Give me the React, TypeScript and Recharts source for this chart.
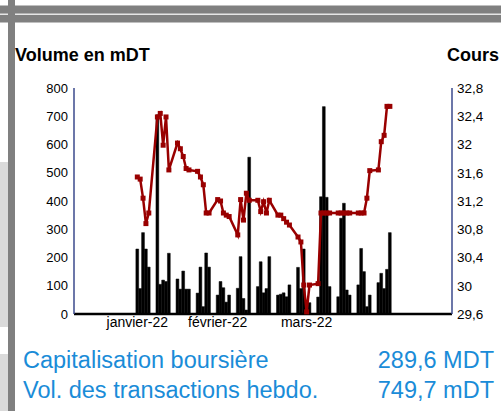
import { ComposedChart, Bar, Line, XAxis, YAxis } from "recharts";

// trading days, counted from Monday 3 January 2022
const days = [
  0, 1, 2, 3, 4, 7, 8, 9, 10, 11, 14, 15, 16, 17, 18, 21, 22, 23, 24, 25,
  28, 29, 30, 31, 32, 35, 36, 37, 38, 39, 42, 43, 44, 45, 46, 49, 50, 51, 52, 53,
  56, 57, 58, 59, 60, 63, 64, 65, 66, 67, 70, 71, 72, 73, 74, 77, 78, 79, 80, 81,
  84, 85, 86, 87, 88,
];

// daily volume, mDT
const volumes = [
  230, 90, 288, 230, 166, 705, 105, 120, 115, 215, 124, 88, 152, 88, 88, 74, 166, 26, 216, 166,
  67, 115, 93, 42, 67, 91, 203, 55, 14, 555, 97, 185, 75, 90, 203, 67, 70, 75, 61, 103,
  165, 90, 230, 45, 40, 60, 415, 734, 413, 97, 61, 339, 392, 85, 67, 103, 232, 150, 26, 67,
  111, 144, 90, 158, 288,
];

// closing price, DT
const prices = [
  31.54, 31.51, 31.24, 30.88, 31.03, 32.39, 32.44, 31.99, 32.39, 31.64,
  32.02, 31.94, 31.83, 31.66, 31.64, 31.62, 31.54, 31.43, 31.03, 31.03,
  31.22, 31.2, 31.03, 31.0, 30.98, 30.72, 31.22, 30.93, 31.31, 31.21,
  31.21, 31.05, 31.19, 31.03, 31.21, 31.0, 31.0, 30.95, 30.9, 30.86,
  30.69, 30.62, 30.01, 29.63, 30.01, 30.03, 31.03, 31.03, 31.03, 31.03,
  31.03, 31.03, 31.03, 31.03, 31.03, 31.03, 31.03, 31.03, 31.24, 31.63,
  31.64, 32.04, 32.13, 32.54, 32.54,
];

const volumeTicks = [0, 100, 200, 300, 400, 500, 600, 700, 800];
const priceTicks = [29.6, 30, 30.4, 30.8, 31.2, 31.6, 32, 32.4, 32.8];
const monthTicks = [0, 28, 59];
const monthLabels = ["janvier-22", "février-22", "mars-22"];

const data = days.map((d, i) => ({ d, vol: volumes[i], cours: prices[i] }));

const RED = "#990000";
const NAVY = "#3b4a8c";
const BLUE = "#1a8cd8";
const GRAY = "#808080";
const FONT = "Arial, 'Liberation Sans', sans-serif";

const SquareDot = (props: any) => {
  const { cx, cy, index } = props;
  if (cx == null || cy == null) return <g key={index} />;
  return <rect key={index} x={cx - 2.5} y={cy - 2.5} width={5} height={5} fill={RED} />;
};

const fmtPrice = (v: number) => String(Math.round(v * 10) / 10).replace(".", ",");

export default function App() {
  return (
    <div style={{ position: "absolute", left: 0, top: 0, width: 501, height: 411, background: "#fff", overflow: "hidden" }}>
      <svg width={501} height={411} style={{ position: "absolute", left: 0, top: 0 }}>
        <rect x={0} y={5.5} width={501} height={17} fill={GRAY} />
        <rect x={0} y={13.5} width={501} height={1.5} fill="#e6e6e6" />
        <rect x={8} y={0} width={7} height={411} fill={GRAY} />
        <rect x={0} y={162} width={8} height={165} fill="#dadada" />
        <rect x={0} y={354} width={8} height={57} fill="#dadada" />
        <g fontFamily={FONT} fontWeight="bold" fontSize={18} fill="#000">
          <text x={15} y={61}>Volume en mDT</text>
          <text x={447} y={61}>Cours</text>
        </g>
        <g fontFamily={FONT} fontSize={23.5} fill={BLUE}>
          <text x={23} y={367.5}>Capitalisation boursière</text>
          <text x={494} y={367.5} textAnchor="end">289,6 MDT</text>
          <text x={23} y={397.5}>Vol. des transactions hebdo.</text>
          <text x={494} y={397.5} textAnchor="end">749,7 mDT</text>
        </g>
      </svg>
      <div style={{ position: "absolute", left: 0, top: 0 }}>
        <ComposedChart width={501} height={340} data={data} margin={{ top: 88, right: 4, bottom: 0, left: 34 }}>
          <XAxis
            dataKey="d"
            type="number"
            domain={[-22.06, 109.65]}
            ticks={monthTicks}
            interval={0}
            tickFormatter={(v: number) => monthLabels[monthTicks.indexOf(v)]}
            tickLine={false}
            tickSize={0}
            tickMargin={3}
            axisLine={{ stroke: "#000", strokeWidth: 2.5 }}
            tick={{ fontSize: 14, fill: "#000", fontFamily: FONT }}
            height={26}
            allowDataOverflow
          />
          <YAxis
            yAxisId="vol"
            orientation="left"
            width={40}
            domain={[0, 800]}
            ticks={volumeTicks}
            interval={0}
            tickLine={false}
            tickSize={0}
            tickMargin={6}
            axisLine={{ stroke: NAVY, strokeWidth: 1.5 }}
            tick={{ fontSize: 13, fill: "#000", fontFamily: FONT }}
          />
          <YAxis
            yAxisId="price"
            orientation="right"
            width={45}
            domain={[29.6, 32.8]}
            ticks={priceTicks}
            interval={0}
            tickFormatter={fmtPrice}
            tickLine={false}
            tickSize={0}
            tickMargin={5}
            axisLine={{ stroke: NAVY, strokeWidth: 1.5 }}
            tick={{ fontSize: 13.5, fill: "#000", fontFamily: FONT }}
          />
          <Bar
            yAxisId="vol"
            dataKey="vol"
            fill="#000"
            stroke="#000"
            strokeWidth={0.5}
            barSize={2.8}
            isAnimationActive={false}
          />
          <Line
            yAxisId="price"
            dataKey="cours"
            stroke={RED}
            strokeWidth={2.5}
            dot={SquareDot}
            activeDot={false}
            isAnimationActive={false}
          />
        </ComposedChart>
      </div>
    </div>
  );
}
